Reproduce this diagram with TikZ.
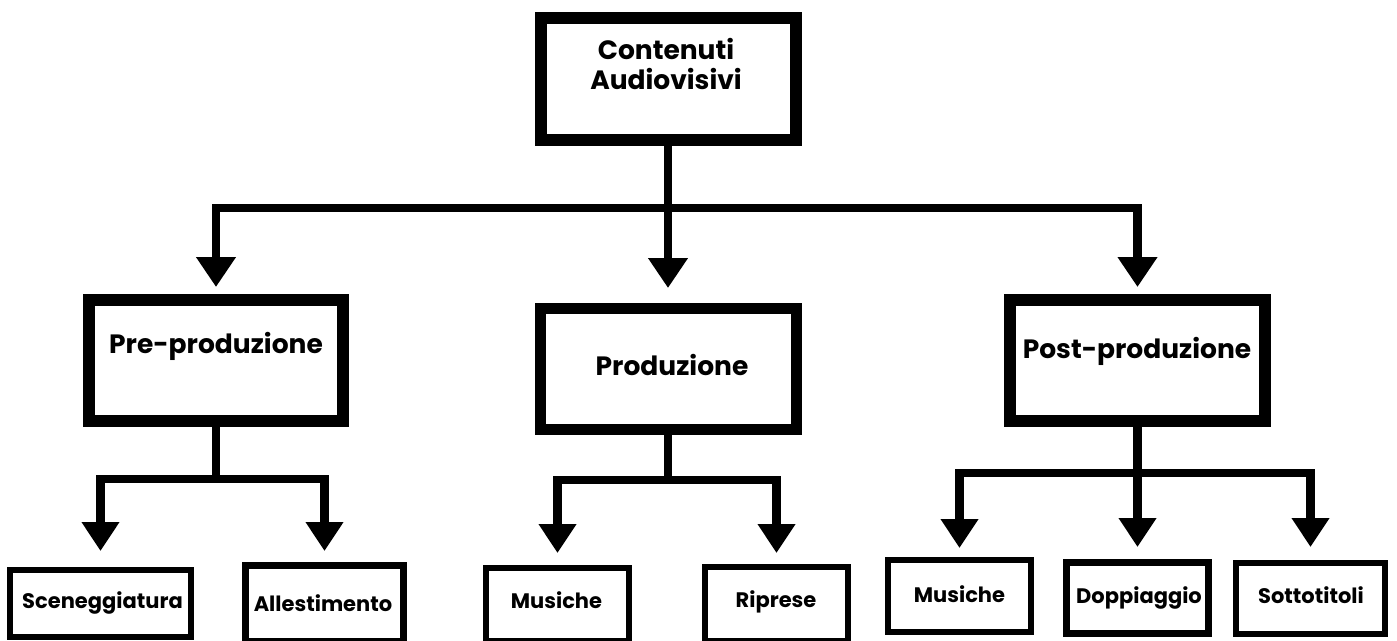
\documentclass[tikz,border=0pt]{standalone}
\usepackage{fontspec}
\setmainfont{Poppins}
\usetikzlibrary{arrows.meta}

\begin{document}
\begin{tikzpicture}[x=1pt,y=-1pt,
  box/.style={draw=black, fill=white, rectangle, inner sep=0pt, outer sep=0pt, line join=miter},
  heavybox/.style={box, line width=12pt},
  lightbox/.style={box, line width=6.5pt},
  biglabel/.style={font=\fontsize{26.5}{30}\selectfont\bfseries, inner sep=0pt, anchor=base},
  smalllabel/.style={font=\fontsize{21}{24}\selectfont\bfseries, inner sep=0pt, anchor=base},
  link/.style={draw=black, line width=8.5pt, line join=miter},
  biglink/.style={link, -{Triangle[width=38pt,length=30pt]}},
  smalllink/.style={link, -{Triangle[width=36pt,length=29pt]}},
]
\useasboundingbox (0,0) rectangle (1397,640);
\fill[white] (0,0) rectangle (1397,640);

% root
\node[heavybox, minimum width=255pt, minimum height=122pt] (root) at (668,79) {};
\node[biglabel, anchor=center, align=center] (rootlabel) at (666,64) {Contenuti\\Audiovisivi};

% phases
\node[heavybox, minimum width=254pt, minimum height=121pt] (pre) at (216,360.5) {};
\node[biglabel] (prelabel) at (216,353) {Pre-produzione};
\node[heavybox, line width=11pt, minimum width=256pt, minimum height=121pt] (prod) at (668,369) {};
\node[biglabel] (prodlabel) at (672,375) {Produzione};
\node[heavybox, minimum width=255pt, minimum height=121pt] (post) at (1137.5,360.5) {};
\node[biglabel] (postlabel) at (1137,358) {Post-produzione};

% activities
\node[lightbox, minimum width=181pt, minimum height=67pt] (scen) at (100.5,603.5) {};
\node[smalllabel] (scenlabel) at (102.5,608) {Sceneggiatura};
\node[lightbox, line width=7pt, minimum width=158pt, minimum height=76pt] (alle) at (324.5,603.5) {};
\node[smalllabel] (allelabel) at (323,611) {Allestimento};
\node[lightbox, line width=6pt, minimum width=143pt, minimum height=73pt] (musa) at (557.5,604.5) {};
\node[smalllabel] (musalabel) at (556.5,608) {Musiche};
\node[lightbox, line width=6pt, minimum width=143pt, minimum height=74pt] (rip) at (776.5,604) {};
\node[smalllabel] (riplabel) at (776,607) {Riprese};
\node[lightbox, minimum width=143pt, minimum height=72pt] (musb) at (959.5,596) {};
\node[smalllabel] (musblabel) at (959.5,602) {Musiche};
\node[lightbox, minimum width=142pt, minimum height=71pt] (dop) at (1137.5,598) {};
\node[smalllabel] (doplabel) at (1139,603) {Doppiaggio};
\node[lightbox, line width=6pt, minimum width=149pt, minimum height=71pt] (sott) at (1310.5,598) {};
\node[smalllabel] (sottlabel) at (1311,603) {Sottotitoli};

% root to phases
\coordinate (j0) at (668,208);
\draw[link] (root.south) -- (j0);
\draw[biglink, shorten >=13pt] (j0) -| (pre.north);
\draw[biglink, shorten >=20.5pt] (j0) -- (prod.north);
\draw[biglink, shorten >=13pt] (j0) -| (post.north);

% pre-production
\coordinate (j1) at (216,479);
\draw[link] (pre.south) -- (j1);
\draw[smalllink, shorten >=19pt] (j1) -| (scen.north);
\draw[smalllink, shorten >=14.5pt] (j1) -| (alle.north);

% production
\coordinate (j2) at (668,480);
\draw[link] (prod.south) -- (j2);
\draw[smalllink, shorten >=15pt] (j2) -| (musa.north);
\draw[smalllink, shorten >=14pt] (j2) -| (rip.north);

% post-production
\coordinate (j3) at (1137.5,473);
\draw[link] (post.south) -- (j3);
\draw[smalllink, shorten >=12pt] (j3) -| (musb.north);
\draw[smalllink, shorten >=15.5pt] (j3) -- (dop.north);
\draw[smalllink, shorten >=15.5pt] (j3) -| (sott.north);
\end{tikzpicture}
\end{document}
